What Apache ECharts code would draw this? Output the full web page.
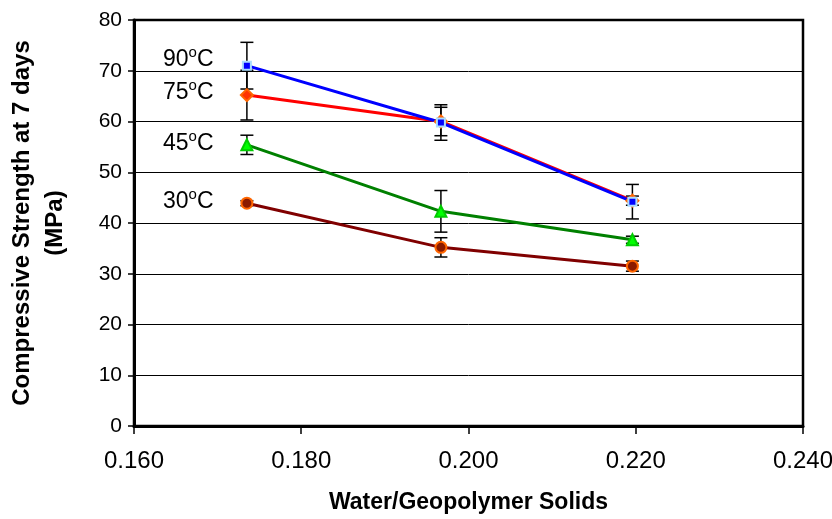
<!DOCTYPE html>
<html><head><meta charset="utf-8">
<script src="https://cdn.jsdelivr.net/npm/echarts@6/dist/echarts.min.js"></script>
<style>html,body{margin:0;padding:0;background:#fff}#c{width:832px;height:519px}</style>
</head><body><div id="c"></div>
<script>
const xValues = [0.1735, 0.1967, 0.2196];
const s90 = [71.0, 59.8, 44.2];
const e90 = [4.6, 3.5, 3.4];
const s75 = [65.2, 60.0, 44.4];
const e75 = [4.9, 2.8, 0.9];
const s45 = [55.4, 42.3, 36.7];
const e45 = [1.9, 4.1, 0.7];
const s30 = [43.9, 35.2, 31.5];
const e30 = [0.5, 1.9, 1.0];
const seriesLabels = ['90', '75', '45', '30'];
const xTicks = {min: 0.16, max: 0.24, interval: 0.02};
const yTicks = {min: 0, max: 80, interval: 10};

const font = '"Liberation Sans", Arial, sans-serif';
function pts(v){ return xValues.map((x,i)=>[x, v[i]]); }
function errData(v,e){ return xValues.map((x,i)=>[x, v[i]-e[i], v[i]+e[i]]); }
function errSeries(v,e){
  return {
    type:'custom', z:3, silent:true,
    data: errData(v,e),
    renderItem: function(params, api){
      const x = api.value(0);
      const lo = api.coord([x, api.value(1)]);
      const hi = api.coord([x, api.value(2)]);
      const w = 6.5;
      const st = {stroke:'#000', lineWidth:1.5};
      return {type:'group', children:[
        {type:'line', shape:{x1:lo[0], y1:lo[1], x2:hi[0], y2:hi[1]}, style:st},
        {type:'line', shape:{x1:lo[0]-w, y1:lo[1], x2:lo[0]+w, y2:lo[1]}, style:st},
        {type:'line', shape:{x1:hi[0]-w, y1:hi[1], x2:hi[0]+w, y2:hi[1]}, style:st}
      ]};
    }
  };
}
function lineSeries(name, v, color, symbol, size, fill, border){
  return {
    name: name, type:'line', z:5, data: pts(v),
    lineStyle:{color:color, width:3},
    symbol: symbol, symbolSize: size,
    itemStyle:{color:fill, borderColor:border, borderWidth:2},
    emphasis:{disabled:true}
  };
}

const chart = echarts.init(document.getElementById('c'), null, {renderer:'canvas'});
const lbl = (t, y) => ({
  type:'text', left:163, top:y,
  style:{
    text:'{n|'+t+'}{s|o}{n|C}',
    rich:{
      n:{fontSize:23, fontFamily:font, fill:'#000', verticalAlign:'bottom', lineHeight:26},
      s:{fontSize:15, fontFamily:font, fill:'#000', verticalAlign:'top', lineHeight:26, padding:[0,0,13,0]}
    }
  }
});
chart.setOption({
  animation:false,
  backgroundColor:'#fff',
  grid:{left:134, right:29, top:20, bottom:93, outerBoundsMode:'none', containLabel:false,
        show:true, borderColor:'#000', borderWidth:2.5},
  xAxis:{
    type:'value', min:xTicks.min, max:xTicks.max, interval:xTicks.interval,
    axisLine:{show:true, onZero:false, lineStyle:{color:'#000', width:3}},
    axisTick:{show:true, length:8, lineStyle:{color:'#000', width:1.5}},
    splitLine:{show:false},
    axisLabel:{color:'#000', fontSize:24, fontFamily:font, margin:23, formatter:v=>v.toFixed(3)},
    name:'Water/Geopolymer Solids', nameLocation:'middle', nameGap:65,
    nameTextStyle:{color:'#000', fontSize:23, fontWeight:'bold', fontFamily:font}
  },
  yAxis:{
    type:'value', min:yTicks.min, max:yTicks.max, interval:yTicks.interval,
    axisLine:{show:true, lineStyle:{color:'#000', width:3}},
    axisTick:{show:true, length:6, lineStyle:{color:'#000', width:1.5}},
    splitLine:{show:true, lineStyle:{color:'#000', width:1}},
    axisLabel:{color:'#000', fontSize:21, fontFamily:font, margin:12},
    name:'Compressive Strength at 7 days\n(MPa)', nameLocation:'middle', nameGap:62,
    nameTextStyle:{color:'#000', fontSize:24, fontWeight:'bold', fontFamily:font, lineHeight:33}
  },
  graphic:[lbl(seriesLabels[0],45), lbl(seriesLabels[1],78), lbl(seriesLabels[2],129), lbl(seriesLabels[3],187)],
  series:[
    errSeries(s90,e90), errSeries(s75,e75), errSeries(s45,e45), errSeries(s30,e30),
    lineSeries('30', s30, '#800000', 'circle', 11, '#8b1a00', '#ff6600'),
    lineSeries('45', s45, '#008000', 'triangle', 11, '#00ff00', '#00cc00'),
    lineSeries('75', s75, '#ff0000', 'diamond', 12, '#ff3300', '#ff6600'),
    lineSeries('90', s90, '#0000ff', 'rect', 8, '#0000ff', '#aaddff')
  ]
});
</script></body></html>
